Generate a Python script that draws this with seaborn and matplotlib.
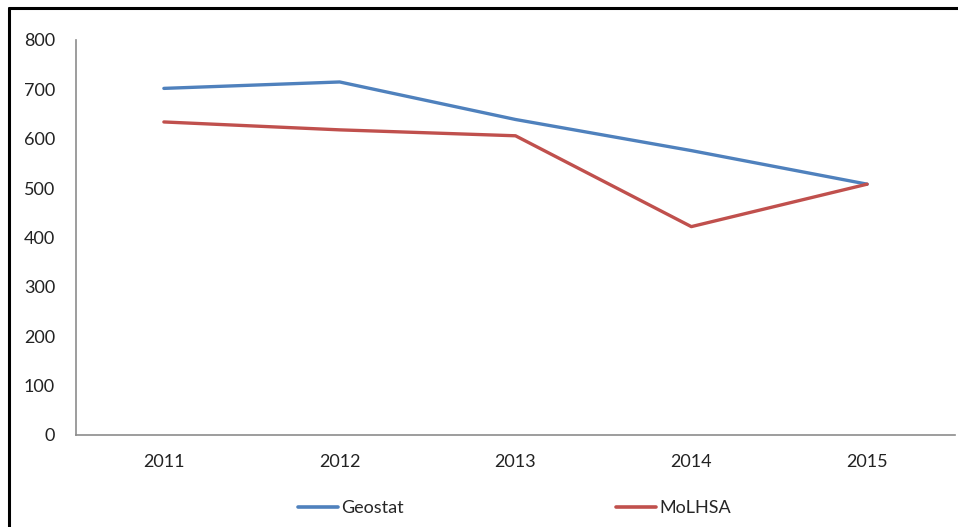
import matplotlib
matplotlib.use("Agg")
import matplotlib.pyplot as plt
from matplotlib.lines import Line2D
import pandas as pd
import seaborn as sns

years = ["2011", "2012", "2013", "2014", "2015"]
geostat = [702, 715, 639, 576, 508]
molhsa = [634, 618, 606, 422, 508]
series_names = ["Geostat", "MoLHSA"]
colors = {"Geostat": "#4F81BD", "MoLHSA": "#C0504D"}
y_ticks = [0, 100, 200, 300, 400, 500, 600, 700, 800]

df = pd.DataFrame({
    "pos": list(range(len(years))) * 2,
    "value": geostat + molhsa,
    "series": [series_names[0]] * len(years) + [series_names[1]] * len(years),
})

sns.set_theme(style="white")
plt.rcParams["font.family"] = ["Lato", "DejaVu Sans"]

fig = plt.figure(figsize=(9.58, 5.27), dpi=100)
ax = fig.add_axes([0.0793, 0.1746, 0.9176, 0.7495])

sns.lineplot(data=df, x="pos", y="value", hue="series", palette=colors,
             linewidth=2.4, ax=ax, legend=False, sort=False)

ax.set_xlim(-0.5, 4.5)
ax.set_ylim(0, 800)
ax.set_yticks(y_ticks)
ax.set_yticklabels([str(v) for v in y_ticks])
ax.set_xticks([0, 1, 2, 3, 4, 4.5])
ax.set_xticklabels(years + [""])
ax.set_xlabel("")
ax.set_ylabel("")

axis_grey = "#8C8C8C"
for side in ("top", "right"):
    ax.spines[side].set_visible(False)
for side in ("left", "bottom"):
    ax.spines[side].set_color(axis_grey)
    ax.spines[side].set_linewidth(1.2)

ax.tick_params(axis="x", direction="inout", length=7, width=1, color=axis_grey,
               labelsize=13, pad=10, labelcolor="#222222")
ax.tick_params(axis="y", length=0, labelsize=13, pad=15, labelcolor="#222222")

handles = [Line2D([0], [0], color=colors[n], linewidth=2.6) for n in series_names]
fig.legend(handles, series_names, loc="center", bbox_to_anchor=(0.537, 0.036),
           ncol=2, frameon=False, fontsize=13, handlelength=2.2,
           handletextpad=0.2, columnspacing=11.75)

# Frame edges along the top and left of the figure
fig.add_artist(Line2D([0.0094, 1.0], [0.985, 0.985], transform=fig.transFigure,
                      color="black", linewidth=2.2))
fig.add_artist(Line2D([0.0094, 0.0094], [0.0, 0.985], transform=fig.transFigure,
                      color="black", linewidth=2.2))

fig.savefig("out.png", dpi=100, facecolor="white")
